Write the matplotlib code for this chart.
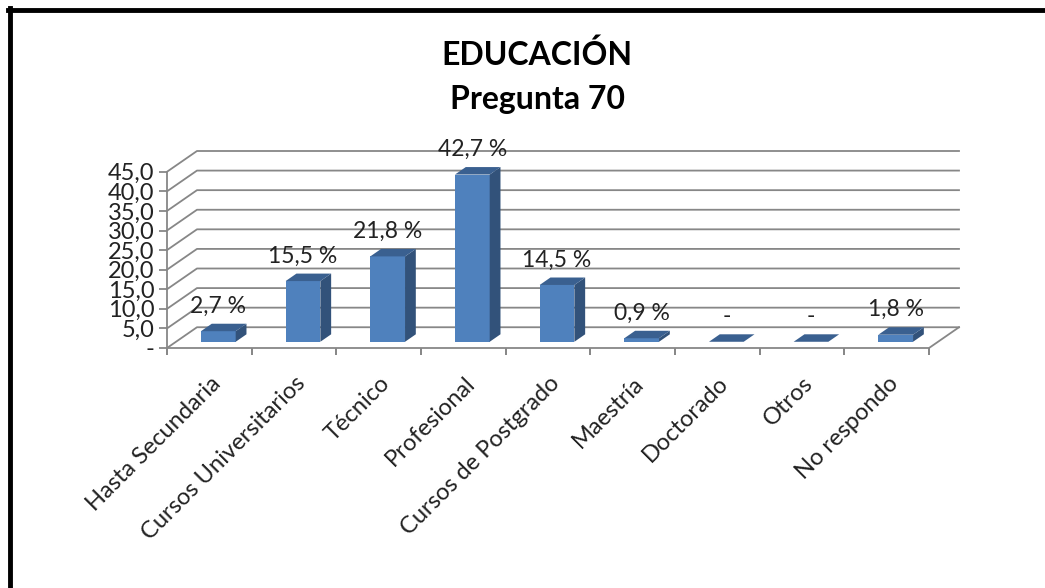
import numpy as np
import matplotlib.pyplot as plt
from matplotlib.patches import Polygon
from matplotlib.lines import Line2D
from matplotlib.transforms import offset_copy

# Datos
categorias = ['Hasta Secundaria', 'Cursos Universitarios', 'Técnico', 'Profesional',
              'Cursos de Postgrado', 'Maestría', 'Doctorado', 'Otros', 'No respondo']
valores = [2.7, 15.5, 21.8, 42.7, 14.5, 0.9, 0.0, 0.0, 1.8]
etiquetas = ['2,7 %', '15,5 %', '21,8 %', '42,7 %', '14,5 %', '0,9 %', '-', '-', '1,8 %']
ticks_y = [0, 5, 10, 15, 20, 25, 30, 35, 40, 45]
ticks_y_txt = ['-', '5,0', '10,0', '15,0', '20,0', '25,0', '30,0', '35,0', '40,0', '45,0']

plt.rcParams['font.family'] = ['Lato', 'DejaVu Sans']

# Profundidad del efecto 3D (en unidades de datos)
DX = 0.354
DY = 5.3
t0, t1 = 0.30, 0.66   # posicion de la barra dentro de la profundidad
ancho = 0.41

fig = plt.figure(figsize=(10.45, 5.88), dpi=100)
ax = fig.add_axes([167 / 1045, 1 - 348 / 588, (959 - 167) / 1045, (348 - 151) / 588])
n = len(categorias)
ax.set_xlim(-0.5, n - 0.5 + DX)
ax.set_ylim(0, ticks_y[-1] + DY)

gris = '#878787'
# Pared izquierda y lineas de cuadricula
for v in ticks_y:
    ax.plot([-0.5, -0.5 + DX, n - 0.5 + DX], [v, v + DY, v + DY], color=gris, lw=1.3,
            clip_on=False, zorder=1)
# Piso
ax.plot([-0.5, n - 0.5, n - 0.5 + DX], [0, 0, DY], color=gris, lw=1.3, clip_on=False, zorder=1)

# Barras con efecto 3D
x = np.arange(n)
frente = '#4F81BD'
lado = '#32527A'
arriba = '#3A6090'
ax.bar(x + t0 * DX, valores, width=ancho, bottom=t0 * DY, color=frente, zorder=3)
for xi, v in zip(x, valores):
    xl = xi + t0 * DX - ancho / 2
    xr = xi + t0 * DX + ancho / 2
    ddx = (t1 - t0) * DX
    ddy = (t1 - t0) * DY
    y0 = t0 * DY
    ax.add_patch(Polygon([(xr, y0), (xr + ddx, y0 + ddy), (xr + ddx, y0 + ddy + v), (xr, y0 + v)],
                         closed=True, color=lado, lw=0, zorder=3))
    ax.add_patch(Polygon([(xl, y0 + v), (xr, y0 + v), (xr + ddx, y0 + ddy + v), (xl + ddx, y0 + ddy + v)],
                         closed=True, color=arriba, lw=0, zorder=3))

# Etiquetas de datos
for xi, v, et in zip(x, valores, etiquetas):
    ax.annotate(et, (xi + t0 * DX, v + t0 * DY), xytext=(0, 18), textcoords='offset points',
                ha='center', va='center', fontsize=16.5, color='#222222', zorder=4)

# Ejes
for s in ['top', 'right', 'bottom']:
    ax.spines[s].set_visible(False)
ax.spines['left'].set_bounds(0, ticks_y[-1])
ax.spines['left'].set_color(gris)
ax.spines['left'].set_linewidth(1.3)
ax.set_yticks(ticks_y)
ax.set_yticklabels(ticks_y_txt, fontsize=17, color='#222222')
ax.tick_params(axis='y', length=6, width=1.3, color=gris, pad=3)
ax.set_xticks([])

# Marcas de categoria
for b in np.arange(-0.5, n, 1.0):
    ax.plot([b, b], [0, 0], marker=3, markersize=5, color=gris, mew=1.3, clip_on=False)

# Etiquetas de categoria giradas
for xi, c in zip(x, categorias):
    tr = offset_copy(ax.transData, fig=fig, x=8, y=-32, units='dots')
    ax.text(xi, 0, c, transform=tr, rotation=45, rotation_mode='anchor',
            ha='right', va='center', fontsize=17, color='#222222')

# Titulo
fig.text(537 / 1045, 1 - 55 / 588, 'EDUCACIÓN', ha='center', va='center',
         fontsize=23, fontweight='bold')
fig.text(537 / 1045, 1 - 100 / 588, 'Pregunta 70', ha='center', va='center',
         fontsize=23, fontweight='bold')

# Marco
fig.add_artist(Line2D([8 / 1045, 1], [1 - 10 / 588, 1 - 10 / 588], color='black', lw=3.5,
                      transform=fig.transFigure))
fig.add_artist(Line2D([10 / 1045, 10 / 1045], [0, 1 - 8 / 588], color='black', lw=3.5,
                      transform=fig.transFigure))

fig.savefig('out.png', dpi=100)
